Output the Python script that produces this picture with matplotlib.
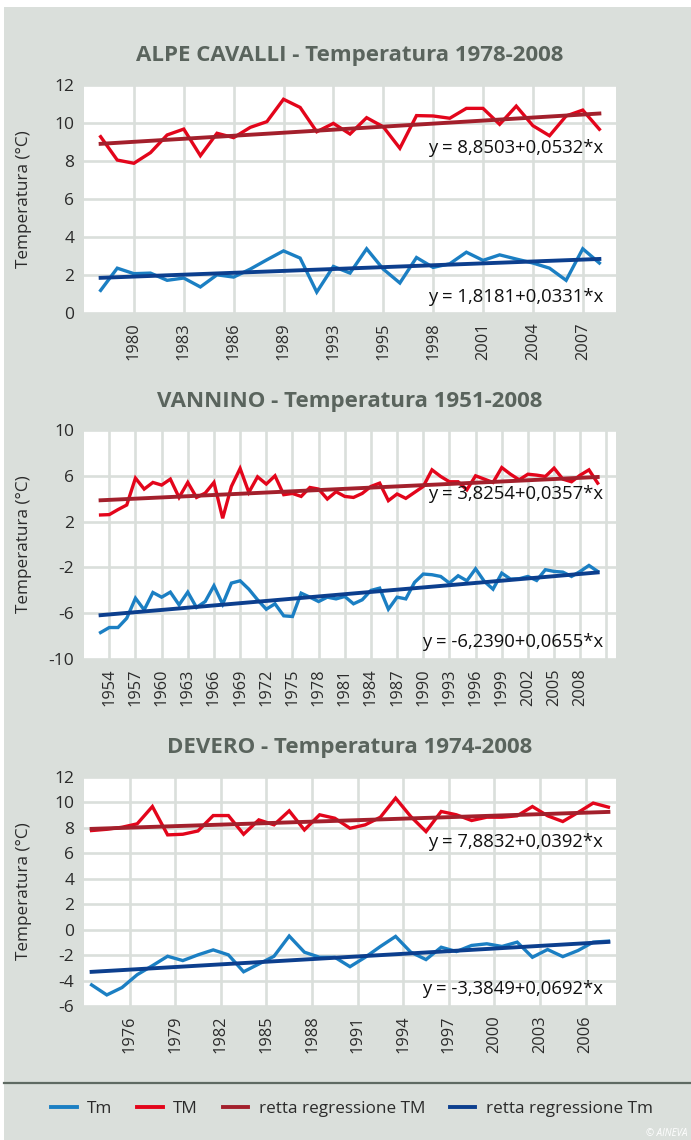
# temperature trends for three stations (Tm / TM with regression lines)
import numpy as np
import matplotlib.pyplot as plt
from matplotlib.lines import Line2D
from matplotlib.patches import Rectangle

plt.rcParams['font.family'] = ['Open Sans', 'DejaVu Sans']

# ALPE CAVALLI 1978-2008
cav_tm_max = [9.28, 8.05, 7.88, 8.44, 9.37, 9.68, 8.28, 9.46, 9.23, 9.77, 10.07,
              11.25, 10.82, 9.54, 9.98, 9.42, 10.28, 9.80, 8.67, 10.39, 10.37,
              10.25, 10.77, 10.77, 9.93, 10.89, 9.86, 9.33, 10.37, 10.68, 9.67]
cav_tm_min = [1.19, 2.36, 2.07, 2.10, 1.72, 1.84, 1.37, 2.01, 1.89, 2.31, 2.80,
              3.27, 2.89, 1.10, 2.45, 2.10, 3.38, 2.31, 1.58, 2.92, 2.40,
              2.59, 3.20, 2.77, 3.06, 2.84, 2.63, 2.36, 1.72, 3.38, 2.63]
cav_ticks = ['1980', '1983', '1986', '1989', '1993', '1995', '1998', '2001', '2004', '2007']

# VANNINO 1951-2008
van_tm_max = [2.58, 2.61, 3.05, 3.45, 5.80, 4.84, 5.42, 5.19, 5.71, 4.11, 5.42,
              4.11, 4.49, 5.42, 2.29, 5.07, 6.64, 4.55, 5.91, 5.28, 6.00, 4.35,
              4.46, 4.20, 4.98, 4.84, 3.97, 4.61, 4.20, 4.11, 4.46, 5.07, 5.36,
              3.83, 4.41, 4.03, 4.55, 5.07, 6.52, 5.94, 5.48, 5.48, 4.78, 6.00,
              5.71, 5.42, 6.72, 6.14, 5.65, 6.14, 6.06, 5.94, 6.67, 5.71, 5.48,
              6.06, 6.52, 5.36]
van_tm_min = [-7.69, -7.25, -7.25, -6.44, -4.69, -5.71, -4.19, -4.60, -4.16, -5.27,
              -4.16, -5.50, -4.98, -3.60, -5.21, -3.37, -3.17, -3.90, -4.83, -5.65,
              -5.18, -6.23, -6.29, -4.25, -4.60, -4.98, -4.60, -4.75, -4.54, -5.18,
              -4.83, -4.01, -3.81, -5.65, -4.60, -4.75, -3.31, -2.58, -2.64, -2.79,
              -3.37, -2.73, -3.17, -2.12, -3.22, -3.90, -2.50, -3.02, -2.99, -2.79,
              -3.14, -2.20, -2.35, -2.41, -2.79, -2.35, -1.83, -2.35]
van_ticks = ['1954', '1957', '1960', '1963', '1966', '1969', '1972', '1975', '1978',
             '1981', '1984', '1987', '1990', '1993', '1996', '1999', '2002', '2005',
             '2008', '']

# DEVERO 1974-2008
dev_tm_max = [7.79, 7.89, 8.05, 8.32, 9.68, 7.45, 7.50, 7.76, 8.97, 8.97, 7.50,
              8.63, 8.24, 9.34, 7.84, 9.03, 8.76, 7.97, 8.24, 8.84, 10.34, 8.89,
              7.71, 9.29, 9.03, 8.58, 8.84, 8.84, 8.95, 9.68, 8.95, 8.50, 9.21,
              9.95, 9.63]
dev_tm_min = [-4.34, -5.13, -4.55, -3.54, -2.83, -2.09, -2.43, -1.98, -1.59, -1.98,
              -3.31, -2.70, -2.09, -0.50, -1.77, -2.17, -2.17, -2.91, -2.17, -1.32,
              -0.53, -1.77, -2.35, -1.38, -1.72, -1.24, -1.11, -1.32, -0.98, -2.17,
              -1.56, -2.12, -1.64, -0.98, -0.90]
dev_ticks = ['1976', '1979', '1982', '1985', '1988', '1991', '1994', '1997', '2000',
             '2003', '2006']

# regression coefficients as written on the chart (x = 1..n)
cav_reg = [(8.8503, 0.0532), (1.8181, 0.0331)]
van_reg = [(3.8254, 0.0357), (-6.2390, 0.0655)]
dev_reg = [(7.8832, 0.0392), (-3.3849, 0.0692)]

bg = '#dadfdb'
c_tm = '#1b7fc3'
c_tM = '#e3051b'
c_regM = '#a3202c'
c_regm = '#0c3f8e'
txt = '#2b2b2b'

W, H = 691, 1140
fig = plt.figure(figsize=(W / 100, H / 100), dpi=100, facecolor='white')
fig.patches.append(Rectangle((4 / W, 0), 1, 1 - 7 / H, transform=fig.transFigure,
                             facecolor=bg, edgecolor='none', zorder=-10))
fig.add_artist(Line2D([4 / W, 1], [1 - 1083 / H] * 2, color='#5e6a62', lw=1.6))

panels = [
    dict(title='ALPE CAVALLI - Temperatura 1978-2008', top=85, bottom=313,
         tmax=cav_tm_max, tmin=cav_tm_min, reg=cav_reg, ylim=(0, 12),
         yticks=np.arange(0, 13, 2), ticks=cav_ticks, tick0=2, xlim=(-1, 31),
         eq_y=(8.7, 0.85), title_y=56),
    dict(title='VANNINO - Temperatura 1951-2008', top=430, bottom=659,
         tmax=van_tm_max, tmin=van_tm_min, reg=van_reg, ylim=(-10, 10),
         yticks=np.arange(-10, 11, 4), ticks=van_ticks, tick0=1, xlim=(-1.9, 59.1),
         eq_y=(4.4, -8.5), title_y=402),
    dict(title='DEVERO - Temperatura 1974-2008', top=777, bottom=1006,
         tmax=dev_tm_max, tmin=dev_tm_min, reg=dev_reg, ylim=(-6, 12),
         yticks=np.arange(-6, 13, 2), ticks=dev_ticks, tick0=2.5, xlim=(-0.5, 34.5),
         eq_y=(6.87, -4.65), title_y=748),
]

for p in panels:
    ax = fig.add_axes([84 / W, 1 - p['bottom'] / H, 532 / W, (p['bottom'] - p['top']) / H])
    ax.set_facecolor('white')
    n = len(p['tmax'])
    idx = np.arange(n)
    xs = idx + 1
    ax.plot(idx, p['tmin'], color=c_tm, lw=2.4, zorder=3, solid_joinstyle='miter')
    ax.plot(idx, p['tmax'], color=c_tM, lw=2.4, zorder=3, solid_joinstyle='miter')
    (aM, bM), (am, bm) = p['reg']
    ax.plot(idx, aM + bM * xs, color=c_regM, lw=2.8, zorder=4)
    ax.plot(idx, am + bm * xs, color=c_regm, lw=2.8, zorder=4)

    ax.set_xlim(*p['xlim'])
    ax.set_ylim(*p['ylim'])
    ax.set_yticks(p['yticks'])
    ax.set_yticklabels([str(v) for v in p['yticks']])
    ax.set_xticks(p['tick0'] + 3 * np.arange(len(p['ticks'])))
    ax.set_xticklabels(p['ticks'], rotation=90)
    ax.tick_params(length=0, labelsize=12.5, colors=txt, pad=7)
    ax.tick_params(axis='x', pad=7, labelsize=11.8)
    ax.grid(True, color=bg, lw=1.9, zorder=1)
    ax.set_axisbelow(True)
    for s in ax.spines.values():
        s.set_visible(False)
    ax.set_ylabel('Temperatura (°C)', fontsize=12.3, color=txt)
    ax.yaxis.set_label_coords(-0.098, 0.5)

    for val, (a, b) in zip(p['eq_y'], p['reg']):
        label = 'y = ' + f'{a:.4f}'.replace('.', ',') + '+' + f'{b:.4f}'.replace('.', ',') + '*x'
        ax.text(0.976, val, label, transform=ax.get_yaxis_transform(), ha='right',
                va='center', fontsize=13.3, color='#111111', zorder=5)

    fig.text(350 / W, 1 - p['title_y'] / H, p['title'], ha='center', va='center',
             fontsize=16, fontweight='bold', color='#5a645d')

handles = [Line2D([], [], color=c_tm, lw=2.8), Line2D([], [], color=c_tM, lw=2.8),
           Line2D([], [], color=c_regM, lw=2.8), Line2D([], [], color=c_regm, lw=2.8)]
labels = ['Tm', 'TM', 'retta regressione TM', 'retta regressione Tm']
fig.legend(handles, labels, loc='center', bbox_to_anchor=(352 / W, 1 - 1109 / H), ncol=4,
           frameon=False, fontsize=12.3, handlelength=1.5, columnspacing=1.45,
           handletextpad=0.6, labelcolor=txt)

fig.text(688 / W, 1 - 1133 / H, '© AINEVA', ha='right', va='center', fontsize=7,
         style='italic', color='white')

fig.savefig('out.png', dpi=100, facecolor='white')
